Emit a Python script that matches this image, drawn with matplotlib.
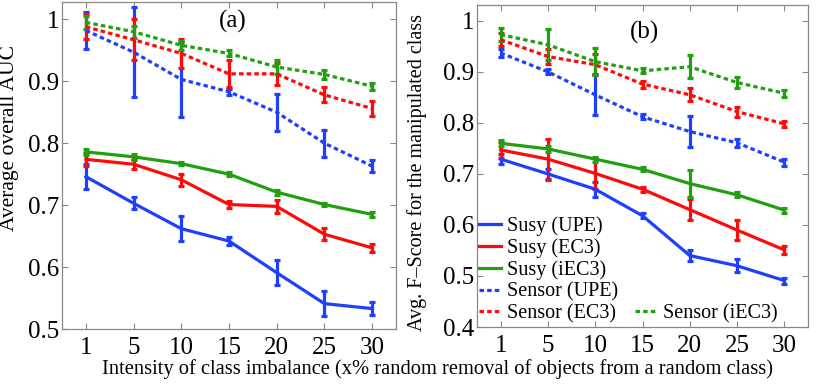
import matplotlib
matplotlib.use("Agg")
import matplotlib.pyplot as plt
from matplotlib.lines import Line2D

SERIF = ['Liberation Serif', 'DejaVu Serif']
plt.rcParams['font.family'] = SERIF

x_labels = ['1', '5', '10', '15', '20', '25', '30']
xpos = list(range(1, 8))

BLUE = '#1f3fff'
RED = '#ff0a0a'
GREEN = '#20a010'

# panel (a): average overall AUC
auc_susy_upe = [0.746, 0.703, 0.662, 0.642, 0.591, 0.541, 0.533]
auc_susy_upe_err = [0.020, 0.010, 0.020, 0.007, 0.020, 0.020, 0.010]
auc_susy_ec3 = [0.774, 0.766, 0.741, 0.701, 0.698, 0.653, 0.631]
auc_susy_ec3_err = [0.010, 0.008, 0.010, 0.005, 0.010, 0.010, 0.006]
auc_susy_iec3 = [0.786, 0.778, 0.767, 0.750, 0.721, 0.701, 0.685]
auc_susy_iec3_err = [0.005, 0.005, 0.002, 0.003, 0.004, 0.003, 0.004]
auc_sens_upe = [0.982, 0.947, 0.903, 0.883, 0.850, 0.800, 0.763]
auc_sens_upe_err = [0.030, 0.073, 0.060, 0.005, 0.030, 0.022, 0.010]
auc_sens_ec3 = [0.988, 0.967, 0.945, 0.912, 0.912, 0.878, 0.856]
auc_sens_ec3_err = [0.020, 0.033, 0.024, 0.022, 0.018, 0.012, 0.012]
auc_sens_iec3 = [0.995, 0.980, 0.958, 0.945, 0.923, 0.911, 0.892]
auc_sens_iec3_err = [0.010, 0.010, 0.007, 0.005, 0.012, 0.007, 0.006]

# panel (b): F-score of the manipulated class
f_susy_upe = [0.729, 0.700, 0.670, 0.618, 0.540, 0.520, 0.491]
f_susy_upe_err = [0.010, 0.010, 0.015, 0.005, 0.010, 0.013, 0.006]
f_susy_ec3 = [0.747, 0.729, 0.701, 0.670, 0.630, 0.590, 0.551]
f_susy_ec3_err = [0.015, 0.040, 0.030, 0.005, 0.020, 0.020, 0.007]
f_susy_iec3 = [0.760, 0.749, 0.729, 0.709, 0.681, 0.659, 0.629]
f_susy_iec3_err = [0.006, 0.006, 0.005, 0.004, 0.026, 0.005, 0.005]
f_sens_upe = [0.937, 0.900, 0.855, 0.812, 0.783, 0.761, 0.723]
f_sens_upe_err = [0.007, 0.005, 0.040, 0.005, 0.030, 0.008, 0.007]
f_sens_ec3 = [0.963, 0.930, 0.914, 0.876, 0.855, 0.822, 0.798]
f_sens_ec3_err = [0.013, 0.015, 0.020, 0.007, 0.013, 0.010, 0.006]
f_sens_iec3 = [0.973, 0.953, 0.920, 0.902, 0.910, 0.879, 0.858]
f_sens_iec3_err = [0.012, 0.030, 0.026, 0.005, 0.023, 0.010, 0.007]

DASH = (0, (1.4, 1.0))
LW = 2.3


def draw(ax, series):
    for y, e, c, ls in series:
        ax.errorbar(xpos, y, yerr=e, color=c, lw=LW, linestyle=ls,
                    elinewidth=2.3, capsize=2.3, capthick=2.3)


def style(ax, ylim, yticks, ylabels):
    ax.set_xlim(0.5, 7.5)
    ax.set_ylim(*ylim)
    ax.set_xticks(xpos)
    ax.set_xticklabels(x_labels)
    ax.set_yticks(yticks)
    ax.set_yticklabels(ylabels)
    ax.tick_params(direction='in', top=True, right=True, length=4,
                   width=0.8, color='#888888', labelsize=18)
    ax.tick_params(axis='x', pad=6)
    ax.tick_params(axis='y', pad=2)
    for sp in ax.spines.values():
        sp.set_color('#888888')
        sp.set_linewidth(0.9)


fig = plt.figure(figsize=(8.3, 3.84), dpi=100)

ax1 = fig.add_axes([0.0747, 0.1432, 0.4024, 0.8516])
draw(ax1, [
    (auc_susy_upe, auc_susy_upe_err, BLUE, '-'),
    (auc_susy_ec3, auc_susy_ec3_err, RED, '-'),
    (auc_susy_iec3, auc_susy_iec3_err, GREEN, '-'),
    (auc_sens_upe, auc_sens_upe_err, BLUE, DASH),
    (auc_sens_ec3, auc_sens_ec3_err, RED, DASH),
    (auc_sens_iec3, auc_sens_iec3_err, GREEN, DASH),
])
style(ax1, (0.5, 1.028), [0.5, 0.6, 0.7, 0.8, 0.9, 1.0],
      ['0.5', '0.6', '0.7', '0.8', '0.9', '1'])
ax1.set_ylabel('Average overall AUC', fontsize=15.5)
ax1.yaxis.set_label_coords(-0.13, 0.584)
ax1.text(0.512, 0.94, '(a)', transform=ax1.transAxes, ha='center',
         va='center', fontsize=18)

ax2 = fig.add_axes([0.5747, 0.1484, 0.3988, 0.8386])
draw(ax2, [
    (f_susy_upe, f_susy_upe_err, BLUE, '-'),
    (f_susy_ec3, f_susy_ec3_err, RED, '-'),
    (f_susy_iec3, f_susy_iec3_err, GREEN, '-'),
    (f_sens_upe, f_sens_upe_err, BLUE, DASH),
    (f_sens_ec3, f_sens_ec3_err, RED, DASH),
    (f_sens_iec3, f_sens_iec3_err, GREEN, DASH),
])
style(ax2, (0.4, 1.031), [0.4, 0.5, 0.6, 0.7, 0.8, 0.9, 1.0],
      ['0.4', '0.5', '0.6', '0.7', '0.8', '0.9', '1'])
ax2.set_ylabel('Avg. F\u2013Score for the manipulated class', fontsize=14.5)
ax2.yaxis.set_label_coords(-0.15, 0.48)
ax2.text(0.507, 0.915, '(b)', transform=ax2.transAxes, ha='center',
         va='center', fontsize=18)

names = ['Susy (UPE)', 'Susy (EC3)', 'Susy (iEC3)',
         'Sensor (UPE)', 'Sensor (EC3)', 'Sensor (iEC3)']
colors = [BLUE, RED, GREEN, BLUE, RED, GREEN]
styles = ['-', '-', '-', DASH, DASH, DASH]
handles = [Line2D([], [], color=c, lw=LW, linestyle=s)
           for c, s in zip(colors, styles)]

leg1 = ax2.legend(handles[:5], names[:5], loc='lower left',
                  bbox_to_anchor=(0.0, 0.005), frameon=False, fontsize=14.5,
                  handlelength=1.1, handletextpad=0.3, labelspacing=0.12,
                  borderaxespad=0.0, borderpad=0.1)
ax2.add_artist(leg1)
ax2.legend(handles[5:], names[5:], loc='lower left',
           bbox_to_anchor=(0.47, 0.005), frameon=False, fontsize=14.5,
           handlelength=1.1, handletextpad=0.3, borderaxespad=0.0,
           borderpad=0.1)

fig.text(0.527, 0.04, 'Intensity of class imbalance (x% random removal of '
         'objects from a random class)', ha='center', va='center',
         fontsize=14.8)

fig.savefig('out.png', dpi=100)
